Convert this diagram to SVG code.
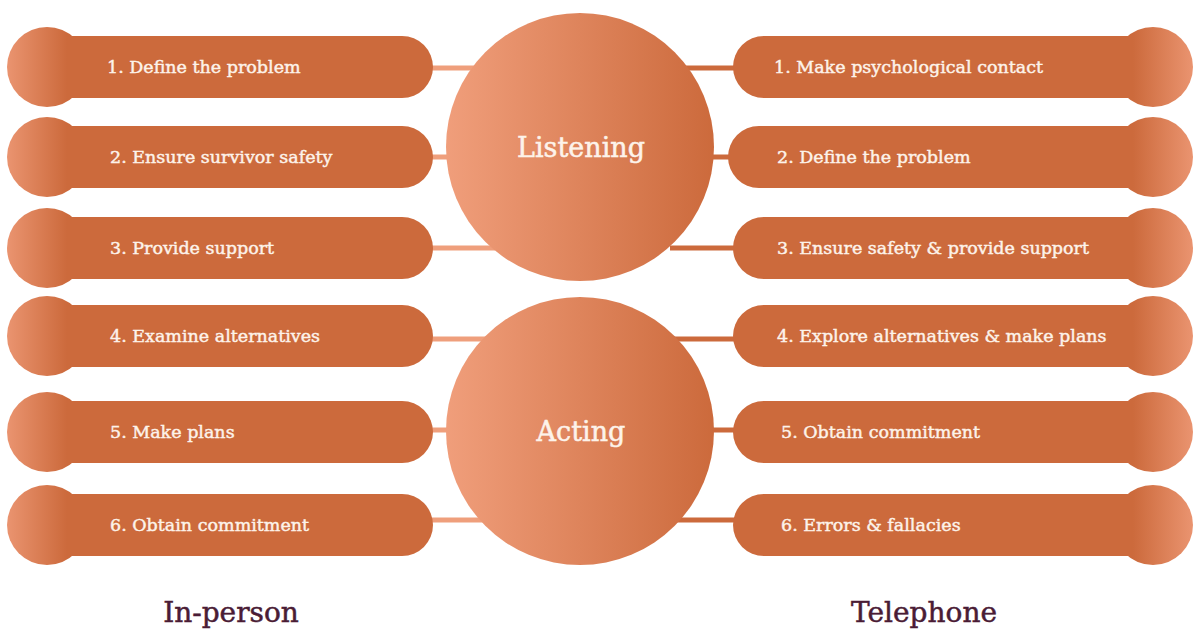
<svg xmlns="http://www.w3.org/2000/svg" width="1193" height="629" viewBox="0 0 1193 629">
  <defs>
    <linearGradient id="hubFill" x1="0" y1="0" x2="1" y2="0">
      <stop offset="0" stop-color="#f09e7b"/>
      <stop offset="1" stop-color="#cc6a3c"/>
    </linearGradient>
    <linearGradient id="capL" x1="0" y1="0" x2="1" y2="0">
      <stop offset="0" stop-color="#ea9470"/>
      <stop offset="0.75" stop-color="#cc6a3c"/>
    </linearGradient>
    <linearGradient id="capR" x1="1" y1="0" x2="0" y2="0">
      <stop offset="0" stop-color="#ea9470"/>
      <stop offset="0.75" stop-color="#cc6a3c"/>
    </linearGradient>
  </defs>
  <style>
    .bar { fill: #cc6a3c; }
    .capL { fill: url(#capL); }
    .capR { fill: url(#capR); }
    .hub { fill: url(#hubFill); }
    .lbl { font-family: "DejaVu Serif", "Liberation Serif", serif; font-size: 17.5px; fill: #fdf3ea; stroke: #fdf3ea; stroke-width: 0.45; }
    .hubLbl { font-family: "DejaVu Serif", "Liberation Serif", serif; font-size: 27px; fill: #fdf3ea; text-anchor: middle; stroke: #fdf3ea; stroke-width: 0.5; }
    .title { font-family: "DejaVu Serif", "Liberation Serif", serif; font-size: 28px; fill: #4a1c35; text-anchor: middle; stroke: #4a1c35; stroke-width: 0.5; }
    .linkL { stroke: #ef9f7c; stroke-width: 5; fill: none; }
    .linkR { stroke: #cc6a3c; stroke-width: 5; fill: none; }
  </style>

  <rect width="1193" height="629" fill="#ffffff"/>

  <!-- connectors between bars and hubs -->
  <g id="connectors">
    <line class="linkL" x1="425" y1="68" x2="480" y2="68"/>
    <line class="linkL" x1="425" y1="157" x2="470" y2="157"/>
    <line class="linkL" x1="425" y1="248" x2="495" y2="248"/>
    <line class="linkL" x1="425" y1="339" x2="490" y2="339"/>
    <line class="linkL" x1="425" y1="430" x2="470" y2="430"/>
    <line class="linkL" x1="425" y1="520" x2="490" y2="520"/>
    <line class="linkR" x1="680" y1="68" x2="740" y2="68"/>
    <line class="linkR" x1="690" y1="157" x2="740" y2="157"/>
    <line class="linkR" x1="670" y1="248" x2="740" y2="248"/>
    <line class="linkR" x1="670" y1="339" x2="740" y2="339"/>
    <line class="linkR" x1="690" y1="430" x2="740" y2="430"/>
    <line class="linkR" x1="670" y1="520" x2="740" y2="520"/>
  </g>

  <!-- hubs -->
  <g id="hub-listening">
    <circle class="hub" cx="580" cy="147" r="134"/>
    <text class="hubLbl" x="581" y="157">Listening</text>
  </g>
  <g id="hub-acting">
    <circle class="hub" cx="580" cy="431" r="134"/>
    <text class="hubLbl" x="581" y="441">Acting</text>
  </g>

  <!-- in-person steps -->
  <g id="ip-1">
    <rect class="bar" x="12" y="36" width="421" height="62" rx="31"/>
    <circle class="capL" cx="47" cy="67" r="40"/>
    <text class="lbl" x="107" y="73">1. Define the problem</text>
  </g>
  <g id="ip-2">
    <rect class="bar" x="12" y="126" width="421" height="62" rx="31"/>
    <circle class="capL" cx="47" cy="157" r="40"/>
    <text class="lbl" x="110" y="163">2. Ensure survivor safety</text>
  </g>
  <g id="ip-3">
    <rect class="bar" x="12" y="217" width="421" height="62" rx="31"/>
    <circle class="capL" cx="47" cy="248" r="40"/>
    <text class="lbl" x="110" y="254">3. Provide support</text>
  </g>
  <g id="ip-4">
    <rect class="bar" x="12" y="305" width="421" height="62" rx="31"/>
    <circle class="capL" cx="47" cy="336" r="40"/>
    <text class="lbl" x="110" y="342">4. Examine alternatives</text>
  </g>
  <g id="ip-5">
    <rect class="bar" x="12" y="401" width="421" height="62" rx="31"/>
    <circle class="capL" cx="47" cy="432" r="40"/>
    <text class="lbl" x="110" y="438">5. Make plans</text>
  </g>
  <g id="ip-6">
    <rect class="bar" x="12" y="494" width="421" height="62" rx="31"/>
    <circle class="capL" cx="47" cy="525" r="40"/>
    <text class="lbl" x="110" y="531">6. Obtain commitment</text>
  </g>

  <!-- telephone steps -->
  <g id="tel-1">
    <rect class="bar" x="733" y="36" width="440" height="62" rx="31"/>
    <circle class="capR" cx="1153" cy="67" r="40"/>
    <text class="lbl" x="774" y="73">1. Make psychological contact</text>
  </g>
  <g id="tel-2">
    <rect class="bar" x="728" y="126" width="445" height="62" rx="31"/>
    <circle class="capR" cx="1153" cy="157" r="40"/>
    <text class="lbl" x="777" y="163">2. Define the problem</text>
  </g>
  <g id="tel-3">
    <rect class="bar" x="733" y="217" width="440" height="62" rx="31"/>
    <circle class="capR" cx="1153" cy="248" r="40"/>
    <text class="lbl" x="777" y="254">3. Ensure safety &amp; provide support</text>
  </g>
  <g id="tel-4">
    <rect class="bar" x="733" y="305" width="440" height="62" rx="31"/>
    <circle class="capR" cx="1153" cy="336" r="40"/>
    <text class="lbl" x="777" y="342">4. Explore alternatives &amp; make plans</text>
  </g>
  <g id="tel-5">
    <rect class="bar" x="733" y="401" width="440" height="62" rx="31"/>
    <circle class="capR" cx="1153" cy="432" r="40"/>
    <text class="lbl" x="781" y="438">5. Obtain commitment</text>
  </g>
  <g id="tel-6">
    <rect class="bar" x="733" y="494" width="440" height="62" rx="31"/>
    <circle class="capR" cx="1153" cy="525" r="40"/>
    <text class="lbl" x="781" y="531">6. Errors &amp; fallacies</text>
  </g>

  <!-- column titles -->
  <g id="title-inperson">
    <text class="title" x="231" y="622">In-person</text>
  </g>
  <g id="title-telephone">
    <text class="title" x="924" y="622">Telephone</text>
  </g>
</svg>
